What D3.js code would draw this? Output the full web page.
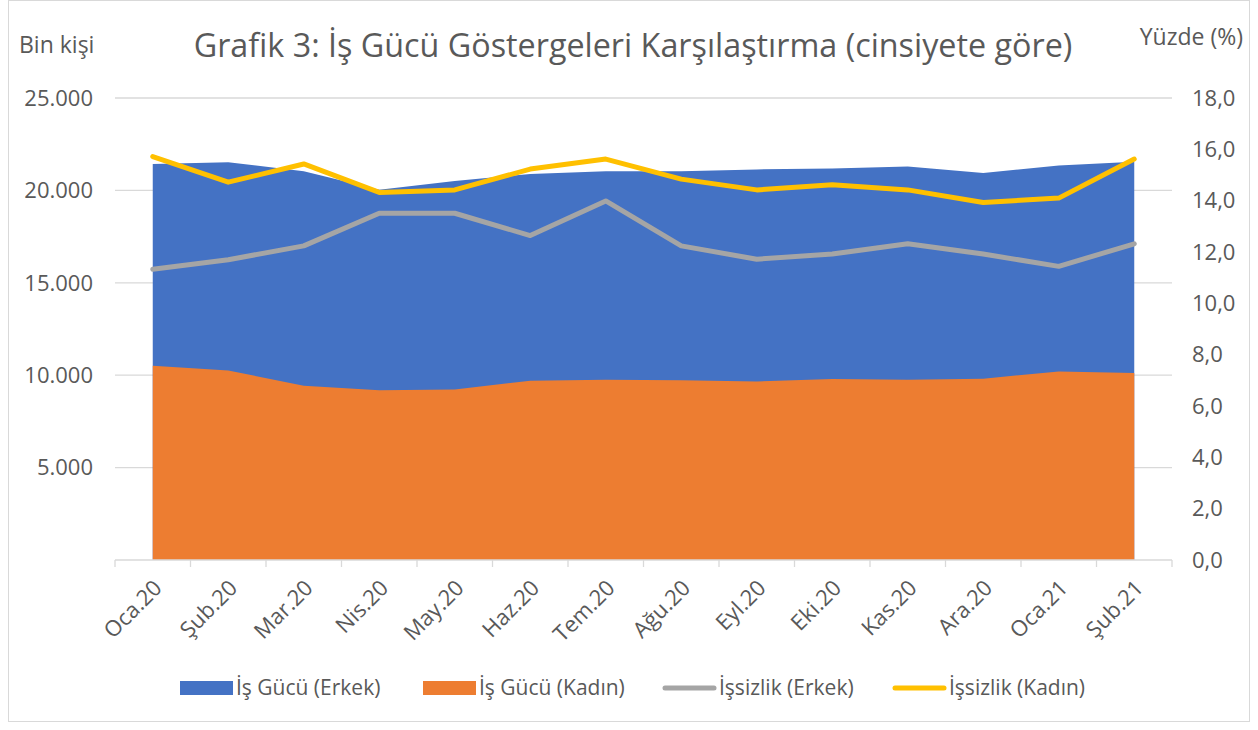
<!DOCTYPE html>
<html>
<head>
<meta charset="utf-8">
<script src="https://cdn.jsdelivr.net/npm/d3@7"></script>
<style>
  body { margin: 0; background: #fff; }
  svg text { font-family: "Open Sans", "Noto Sans", sans-serif; fill: #595959; }
</style>
</head>
<body>
<svg id="chart" width="1258" height="730"></svg>
<script>
// Grafik 3 – İş gücü göstergeleri, cinsiyete göre (bin kişi / %)

const months = ["Oca.20","Şub.20","Mar.20","Nis.20","May.20","Haz.20","Tem.20",
                "Ağu.20","Eyl.20","Eki.20","Kas.20","Ara.20","Oca.21","Şub.21"];

// bin kişi (left axis)
const isGucuErkek = [21430,21530,21030,20030,20510,20890,21030,21030,21135,21190,21300,20940,21350,21550];
const isGucuKadin = [10510,10260,9430,9180,9220,9700,9760,9720,9665,9795,9760,9810,10205,10120];

// yüzde (right axis)
const issizlikErkek = [11.33,11.70,12.24,13.51,13.51,12.64,13.99,12.24,11.72,11.92,12.32,11.92,11.44,12.32];
const issizlikKadin = [15.72,14.72,15.43,14.32,14.42,15.23,15.62,14.84,14.42,14.62,14.42,13.93,14.10,15.62];

const leftTicks = [5000,10000,15000,20000,25000];
const rightTicks = [0,2,4,6,8,10,12,14,16,18];

const C = { blue: "#4472C4", orange: "#ED7D31", gray: "#A5A5A5", yellow: "#FFC000", grid: "#D9D9D9" };

const M = { left: 115, right: 86, top: 98, bottom: 170 };
const W = 1258 - M.left - M.right;
const H = 730 - M.top - M.bottom;

const svg = d3.select("#chart");

// outer frame
svg.append("rect").attr("x", 8.5).attr("y", 0.5).attr("width", 1241).attr("height", 721)
  .attr("fill", "#fff").attr("stroke", "#D9D9D9");

const g = svg.append("g").attr("transform", `translate(${M.left},${M.top})`);

const xBand = d3.scaleBand().domain(months).range([0, W]);
const xc = d => xBand(d) + xBand.bandwidth() / 2;
const yL = d3.scaleLinear().domain([0, 25000]).range([H, 0]);
const yR = d3.scaleLinear().domain([0, 18]).range([H, 0]);

// gridlines
g.append("g").selectAll("line").data(leftTicks).join("line")
  .attr("x1", 0).attr("x2", W)
  .attr("y1", d => yL(d)).attr("y2", d => yL(d))
  .attr("stroke", C.grid).attr("stroke-width", 1.3);

// areas (overlapping, not stacked)
const area = vals => d3.area()
  .x((d, i) => xc(months[i]))
  .y0(yL(0))
  .y1(d => yL(d))(vals);

g.append("path").attr("d", area(isGucuErkek)).attr("fill", C.blue);
g.append("path").attr("d", area(isGucuKadin)).attr("fill", C.orange);

// lines on right axis
const line = d3.line().x((d, i) => xc(months[i])).y(d => yR(d));
[[issizlikErkek, C.gray], [issizlikKadin, C.yellow]].forEach(([vals, col]) => {
  g.append("path").attr("d", line(vals)).attr("fill", "none")
    .attr("stroke", col).attr("stroke-width", 5)
    .attr("stroke-linecap", "round").attr("stroke-linejoin", "round");
});

// x axis: baseline + ticks at category boundaries
const gx = g.append("g").attr("transform", `translate(0,${H})`);
gx.append("line").attr("x1", 0).attr("x2", W).attr("stroke", C.grid).attr("stroke-width", 1.3);
gx.selectAll("line.tick").data(d3.range(months.length + 1)).join("line")
  .attr("class", "tick")
  .attr("x1", i => i * xBand.step()).attr("x2", i => i * xBand.step())
  .attr("y1", 0).attr("y2", 7)
  .attr("stroke", C.grid).attr("stroke-width", 1.3);
gx.selectAll("text").data(months).join("text")
  .attr("transform", d => `translate(${xc(d) + 5},${24}) rotate(-45)`)
  .attr("text-anchor", "end")
  .attr("dy", "0.35em")
  .style("font-size", "22px")
  .text(d => d);

// left axis labels (no zero label, like the original)
const fmtL = d3.formatLocale({ decimal: ",", thousands: ".", grouping: [3] }).format(",");
g.append("g").selectAll("text").data(leftTicks).join("text")
  .attr("x", -22).attr("y", d => yL(d)).attr("dy", "0.35em")
  .attr("text-anchor", "end").style("font-size", "22px")
  .text(d => fmtL(d));

// right axis labels
const fmtR = d => d.toFixed(1).replace(".", ",");
g.append("g").selectAll("text").data(rightTicks).join("text")
  .attr("x", W + 20).attr("y", d => yR(d)).attr("dy", "0.35em")
  .attr("text-anchor", "start").style("font-size", "22px")
  .text(d => fmtR(d));

// axis titles + chart title
svg.append("text").attr("x", 19).attr("y", 53).style("font-size", "23px").text("Bin kişi");
svg.append("text").attr("x", 1243).attr("y", 45).attr("text-anchor", "end").style("font-size", "23px").text("Yüzde (%)");
svg.append("text").attr("x", 633).attr("y", 57).attr("text-anchor", "middle")
  .style("font-size", "32.3px").text("Grafik 3: İş Gücü Göstergeleri Karşılaştırma (cinsiyete göre)");

// legend
const legendItems = [
  { name: "İş Gücü (Erkek)", color: C.blue, type: "rect", x: 180 },
  { name: "İş Gücü (Kadın)", color: C.orange, type: "rect", x: 423 },
  { name: "İşsizlik (Erkek)", color: C.gray, type: "line", x: 663 },
  { name: "İşsizlik (Kadın)", color: C.yellow, type: "line", x: 893 }
];
const lg = svg.append("g").attr("transform", "translate(0,688)");
const li = lg.selectAll("g").data(legendItems).join("g").attr("transform", d => `translate(${d.x},0)`);
li.filter(d => d.type === "rect").append("rect")
  .attr("x", 0).attr("y", -7).attr("width", 53).attr("height", 14).attr("fill", d => d.color);
li.filter(d => d.type === "line").append("line")
  .attr("x1", 2).attr("x2", 51).attr("y1", 0).attr("y2", 0)
  .attr("stroke", d => d.color).attr("stroke-width", 5).attr("stroke-linecap", "round");
li.append("text").attr("x", 56).attr("dy", "0.35em").style("font-size", "21px").text(d => d.name);
</script>
</body>
</html>
